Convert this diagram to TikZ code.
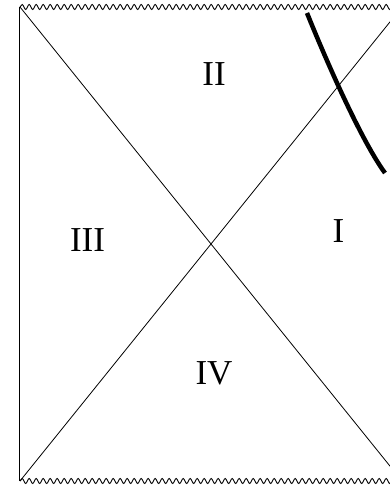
\documentclass[tikz,border=0pt]{standalone}
\usepackage{amsmath}
\usepackage{fontspec}
\setmainfont{Liberation Serif}
\usepackage{tikz}
\usetikzlibrary{calc,decorations.pathmorphing}

\begin{document}
\begin{tikzpicture}[x=1pt,y=1pt]
  \useasboundingbox (-211,-245) rectangle (179,244);
  \clip (-211,-245) rectangle (179,244);
  \def\hw{191}\def\hh{237}
  \coordinate (O) at (0,0);
  \coordinate (TL) at (-\hw,\hh);
  \coordinate (TR) at (\hw,\hh);
  \coordinate (BL) at (-\hw,-\hh);
  \coordinate (BR) at (\hw,-\hh);
  \draw[line width=1pt] (TL)--(BL);
  \draw[line width=0.8pt] (TL)--(BR);
  \draw[line width=0.8pt] (BL)--(TR);
  \draw[line width=0.9pt,decorate,decoration={snake,amplitude=2.5pt,segment length=7pt}] (TL)--(TR);
  \draw[line width=0.9pt,decorate,decoration={snake,amplitude=2.5pt,segment length=7pt}] (BL)--(BR);
  \coordinate (S) at (96,231);
  \coordinate (T) at (174,71);
  \draw[line width=4.5pt] (S) .. controls (119,174) and (152,101) .. (T);
  \node[font=\fontsize{35}{40}\selectfont] (I) at (127.5,13) {I};
  \node[font=\fontsize{35}{40}\selectfont] (II) at (3,170) {II};
  \node[font=\fontsize{35}{40}\selectfont] (III) at (-123.5,3.5) {III};
  \node[font=\fontsize{35}{40}\selectfont] (IV) at (3,-129) {IV};
\end{tikzpicture}
\end{document}
